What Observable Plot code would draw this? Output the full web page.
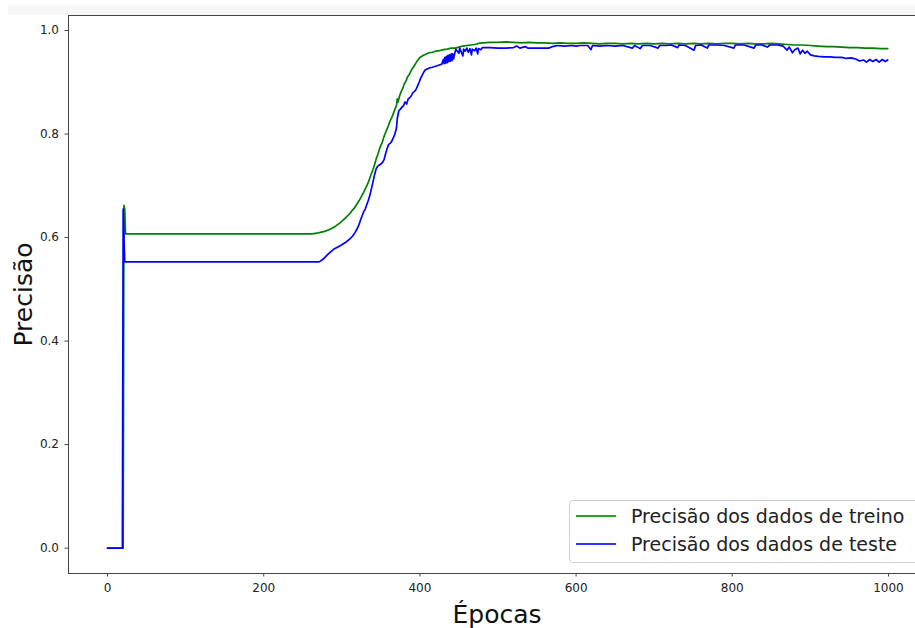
<!DOCTYPE html>
<html><head><meta charset="utf-8">
<script src="https://cdn.jsdelivr.net/npm/d3@7"></script>
<script src="https://cdn.jsdelivr.net/npm/@observablehq/plot@0.6"></script>
<style>
html,body{margin:0;padding:0;background:#fff;}
#wrap{position:relative;width:915px;height:628px;overflow:hidden;font-family:"DejaVu Sans",sans-serif;}
#band{position:absolute;left:8px;top:5px;width:907px;height:10px;background:#f7f7f7;}
#legend{position:absolute;left:569px;top:500px;width:360px;height:61px;border:1px solid #d0d0d0;border-radius:4px;background:rgba(255,255,255,0.85);}
.sw{position:absolute;left:6px;width:40px;height:2px;}
.lt{position:absolute;left:61px;font-size:19px;line-height:22px;color:#222;white-space:nowrap;}
</style></head>
<body><div id="wrap"><div id="band"></div><div id="chart"></div>
<div id="legend"></div></div>
<script>
const xTicks = [0, 200, 400, 600, 800, 1000];
const yTicks = [0.0, 0.2, 0.4, 0.6, 0.8, 1.0];
const seriesNames = ["Precisão dos dados de treino", "Precisão dos dados de teste"];
const seriesColors = ["#008000", "#0000ff"];
const legendColors = ["#2ca02c", "#3333ff"];
const xLabel = "Épocas";
const yLabel = "Precisão";

const trainEpochs = [0,20,21,22,23,100,200,262,270,278,285,292,298,302,306,310,313,316,319,322,325,328,331,334,337,340,342,344,346,348,350,352,354,356,358,360,362,364,366,368,370,371,372,374,376,378,380,382,384,386,388,390,392,394,396,398,400,403,406,409,412,416,420,425,430,435,440,445,450,455,460,465,470,475,480,490,500,510,520,530,540,550,560,570,580,590,600,610,620,630,640,650,660,670,680,690,700,710,720,730,740,750,760,770,780,790,800,810,820,830,840,850,860,870,880,890,900,910,920,930,940,950,960,970,980,990,999];
const trainAcc = [0,0,0.662,0.655,0.607,0.607,0.607,0.607,0.609,0.612,0.616,0.622,0.629,0.634,0.64,0.646,0.652,0.657,0.664,0.671,0.679,0.688,0.697,0.707,0.72,0.732,0.741,0.752,0.76,0.77,0.778,0.785,0.795,0.803,0.81,0.818,0.826,0.832,0.84,0.848,0.855,0.868,0.862,0.874,0.882,0.888,0.897,0.902,0.91,0.914,0.92,0.926,0.93,0.935,0.94,0.944,0.948,0.951,0.953,0.955,0.957,0.958,0.96,0.961,0.963,0.964,0.966,0.966,0.968,0.97,0.971,0.972,0.973,0.975,0.976,0.977,0.977,0.978,0.977,0.976,0.977,0.976,0.976,0.975,0.976,0.975,0.975,0.976,0.975,0.974,0.975,0.975,0.974,0.975,0.974,0.975,0.974,0.975,0.974,0.975,0.974,0.975,0.974,0.975,0.974,0.975,0.975,0.974,0.975,0.974,0.974,0.975,0.974,0.973,0.972,0.972,0.971,0.97,0.969,0.969,0.968,0.967,0.967,0.966,0.966,0.965,0.965];

const testEpochs = [0,19,20,21,22,100,200,271,276,281,286,290,295,300,305,310,314,317,320,322,324,326,328,330,332,334,336,338,340,342,344,346,349,352,354,356,358,360,362,364,366,368,370,371,373,375,377,379,381,383,385,387,389,391,393,395,397,399,401,403,405,407,410,413,416,420,424,428,430,431,432,433,434,435,436,437,438,439,440,441,442,443,444,446,448,450,451,453,455,456,458,460,462,464,466,467,470,472,474,475,478,480,490,500,510,520,524,528,535,538,550,565,570,575,585,595,600,605,615,619,621,630,640,650,660,672,675,682,685,695,705,707,715,722,730,732,740,751,753,760,768,770,780,790,802,804,815,828,830,838,845,848,858,865,870,873,877,880,884,887,890,893,896,900,905,910,918,925,932,940,946,952,958,963,968,972,976,980,984,988,992,996,999];
const testAcc = [0,0,0.655,0.6,0.553,0.553,0.553,0.553,0.558,0.566,0.573,0.578,0.582,0.586,0.591,0.597,0.603,0.61,0.618,0.625,0.634,0.642,0.65,0.655,0.664,0.672,0.682,0.695,0.708,0.722,0.733,0.738,0.741,0.745,0.75,0.762,0.772,0.78,0.782,0.786,0.793,0.8,0.812,0.83,0.845,0.848,0.852,0.855,0.862,0.858,0.868,0.87,0.874,0.88,0.882,0.886,0.893,0.9,0.908,0.914,0.92,0.924,0.926,0.928,0.929,0.931,0.933,0.935,0.944,0.936,0.948,0.937,0.95,0.938,0.952,0.94,0.953,0.941,0.955,0.942,0.955,0.945,0.952,0.964,0.96,0.956,0.966,0.958,0.951,0.964,0.96,0.966,0.958,0.965,0.953,0.964,0.961,0.966,0.955,0.965,0.963,0.967,0.967,0.966,0.966,0.967,0.970,0.966,0.969,0.966,0.966,0.966,0.969,0.971,0.97,0.971,0.97,0.971,0.971,0.963,0.971,0.97,0.971,0.97,0.971,0.966,0.971,0.965,0.971,0.971,0.966,0.971,0.971,0.972,0.967,0.972,0.971,0.962,0.971,0.972,0.966,0.972,0.972,0.971,0.966,0.972,0.972,0.966,0.972,0.972,0.968,0.972,0.972,0.97,0.962,0.968,0.957,0.963,0.966,0.955,0.962,0.956,0.96,0.953,0.951,0.95,0.949,0.949,0.948,0.948,0.946,0.947,0.945,0.941,0.943,0.939,0.944,0.94,0.944,0.939,0.944,0.94,0.943];

const train = trainEpochs.map((e, i) => ({epoch: e, acc: trainAcc[i]}));
const test = testEpochs.map((e, i) => ({epoch: e, acc: testAcc[i]}));

const xDomain = [-50, 1034.6];
const yDomain = [-0.049, 1.029];
const spine = "#444";

const chart = Plot.plot({
  width: 915, height: 628,
  marginLeft: 68, marginRight: 0, marginTop: 15, marginBottom: 55,
  style: {fontFamily: "DejaVu Sans", fontSize: "12px", color: "#222", background: "transparent"},
  x: {domain: xDomain},
  y: {domain: yDomain},
  marks: [
    Plot.axisX({ticks: xTicks, tickSize: 3.5, tickPadding: 6, label: null, tickFormat: d3.format("d"), stroke: spine}),
    Plot.axisY({ticks: yTicks, tickSize: 3.5, tickPadding: 6, label: null, tickFormat: d3.format(".1f"), stroke: spine}),
    Plot.ruleX([xDomain[0]], {stroke: spine, strokeWidth: 1}),
    Plot.ruleY([yDomain[0], yDomain[1]], {stroke: spine, strokeWidth: 1}),
    Plot.line(train, {x: "epoch", y: "acc", stroke: seriesColors[0], strokeWidth: 1.7}),
    Plot.line(test, {x: "epoch", y: "acc", stroke: seriesColors[1], strokeWidth: 1.7}),
    Plot.text([xLabel], {frameAnchor: "bottom", lineAnchor: "bottom", dy: 49, dx: 5, fontSize: 25, fill: "#111", text: d => d}),
    Plot.text([yLabel], {frameAnchor: "left", textAnchor: "middle", lineAnchor: "bottom", rotate: -90, dx: -37, fontSize: 25, fill: "#111", text: d => d})
  ]
});
document.getElementById("chart").appendChild(chart);

const legend = document.getElementById("legend");
seriesNames.forEach((name, i) => {
  const top = 15 + i * 28;
  const sw = document.createElement("div");
  sw.className = "sw";
  sw.style.top = (top - 1) + "px";
  sw.style.background = legendColors[i];
  legend.appendChild(sw);
  const t = document.createElement("div");
  t.className = "lt";
  t.style.top = (top - 11) + "px";
  t.textContent = name;
  legend.appendChild(t);
});
</script></body></html>
